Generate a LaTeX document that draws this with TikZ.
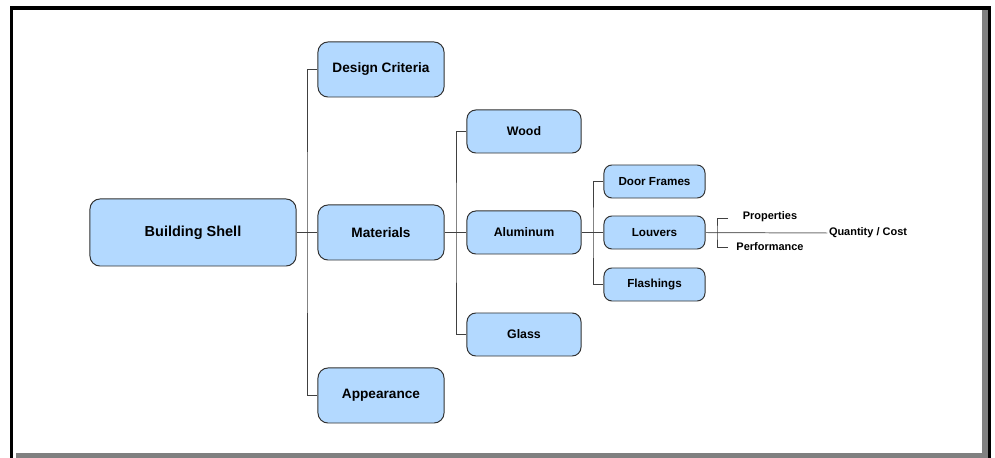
\documentclass[tikz,border=0pt]{standalone}
\usepackage{fontspec}
\setmainfont{Liberation Sans}
\usepackage{tikz}
\usetikzlibrary{positioning,calc}

\definecolor{boxblue}{RGB}{179,217,255}
\definecolor{boxline}{RGB}{50,50,50}
\definecolor{shadowgrey}{RGB}{128,128,128}

\begin{document}
\begin{tikzpicture}[
    x=0.025cm, y=-0.025cm,
    box/.style={rectangle, rounded corners=0.25cm, draw=boxline, fill=boxblue, line width=0.7pt, align=center, font=\bfseries},
    rootbox/.style={box, minimum width=5.15cm, minimum height=1.675cm, font=\bfseries\fontsize{10.3}{12}\selectfont},
    topicbox/.style={box, minimum width=3.15cm, minimum height=1.375cm, font=\bfseries\fontsize{9.7}{11}\selectfont},
    itembox/.style={box, rounded corners=0.22cm, minimum width=2.85cm, minimum height=1.075cm, font=\bfseries\fontsize{8.8}{10}\selectfont},
    partbox/.style={box, rounded corners=0.2cm, minimum width=2.525cm, minimum height=0.825cm, font=\bfseries\fontsize{8.3}{10}\selectfont},
    note/.style={inner sep=1pt, font=\bfseries\fontsize{7.8}{9}\selectfont},
    link/.style={draw=black!75, line width=0.7pt}
]
    \useasboundingbox (0,0) rectangle (995,458);

    % Frame with shadow
    \fill[shadowgrey] (982,10) rectangle (988,458);
    \fill[shadowgrey] (16,453) rectangle (988,458);
    \draw[line width=2.2pt] (11.5,458) -- (11.5,8) -- (989.5,8) -- (989.5,458);

    % Root
    \node[rootbox] (shell) at (193,232.5) {Building Shell};

    % Second level
    \node[topicbox] (design) at (381,69.5) {Design Criteria};
    \node[topicbox] (materials) at (381,232.5) {Materials};
    \node[topicbox] (appearance) at (381,395.5) {Appearance};

    % Materials
    \node[itembox] (wood) at (524,131.5) {Wood};
    \node[itembox] (aluminum) at (524,232.5) {Aluminum};
    \node[itembox] (glass) at (524,334.5) {Glass};

    % Aluminum parts
    \node[partbox] (doorframes) at (654.5,181.5) {Door Frames};
    \node[partbox] (louvers) at (654.5,232.5) {Louvers};
    \node[partbox] (flashings) at (654.5,284.5) {Flashings};

    % Louver notes
    \node[note] (props) at (770,217) {Properties};
    \node[note] (perf) at (770,247) {Performance};
    \node[note] (qty) at (868,233) {Quantity / Cost};

    % Trunks
    \coordinate (trunkA) at (307,232.5);
    \coordinate (trunkB) at (456,232.5);
    \coordinate (trunkC) at (593,232.5);
    \coordinate (brmid) at (717,232.5);
    \coordinate (brtop) at (728,218);
    \coordinate (brbot) at (728,247);

    % Connectors
    \draw[link] (shell) -- (materials);
    \draw[link] (design.west) -| (trunkA) |- (appearance.west);
    \draw[link] (materials) -- (aluminum);
    \draw[link] (wood.west) -| (trunkB) |- (glass.west);
    \draw[link] (aluminum) -- (louvers);
    \draw[link] (doorframes.west) -| (trunkC) |- (flashings.west);
    \draw[link, draw=black!55] (louvers.east) -- (qty.west);
    \draw[link] (brtop) -| (brmid) |- (brbot);
\end{tikzpicture}
\end{document}
